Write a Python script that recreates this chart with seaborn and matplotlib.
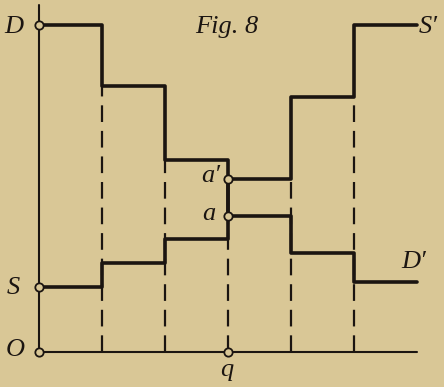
import matplotlib
matplotlib.use('Agg')

import matplotlib.pyplot as plt
import pandas as pd
import seaborn as sns

# step levels of the demand (D -> D') and supply (S -> S') schedules
quantity = [0, 1, 2, 3, 4, 5, 6]
demand = [32.7, 26.6, 19.2, 13.6, 9.9, 7.0, 7.0]
supply = [6.5, 8.9, 11.3, 17.3, 25.5, 32.7, 32.7]
q_eq = 3
a_price = 13.6
a2_price = 17.3

bg = '#d9c796'
ink = '#1b1511'

sns.set_style('white')
plt.rcParams['font.family'] = ['Liberation Serif', 'DejaVu Serif']

fig = plt.figure(figsize=(4.44, 3.87), dpi=100, facecolor=bg)
ax = fig.add_axes([0, 0, 1, 1], facecolor=bg)
ax.set_xlim(-39 / 63, 405 / 63)
ax.set_ylim(-3.5, 35.2)
ax.axis('off')

# axes of the diagram
ax.plot([0, 0], [0, 34.7], color=ink, lw=1.5, zorder=2)
ax.plot([0, 6.0], [0, 0], color=ink, lw=1.5, zorder=2)

# dashed verticals from each step down to the quantity axis
for i in range(1, 6):
    top = max(demand[i], supply[i - 1])
    ax.plot([quantity[i], quantity[i]], [0, top], color=ink, lw=1.6,
            dashes=(7.5, 4), zorder=1)

df = pd.DataFrame({'q': quantity, 'D': demand, 'S': supply})
sns.lineplot(data=df, x='q', y='D', ax=ax, color=ink, lw=2.6,
             drawstyle='steps-post', sort=False, zorder=3)
sns.lineplot(data=df, x='q', y='S', ax=ax, color=ink, lw=2.6,
             drawstyle='steps-post', sort=False, zorder=3)
ax.set_xlim(-39 / 63, 405 / 63)
ax.set_ylim(-3.5, 35.2)

# small open circles
pts_x = [0, 0, 0, q_eq, q_eq, q_eq]
pts_y = [demand[0], supply[0], 0, 0, a_price, a2_price]
ax.plot(pts_x, pts_y, 'o', ms=6, mfc=bg, mec=ink, mew=1.3, zorder=4)

fs = 19
kw = dict(style='italic', fontsize=fs, color=ink, ha='center', va='center')
ax.text(-0.40, 32.5, 'D', **kw)
ax.text(-0.40, 6.4, 'S', **kw)
ax.text(-0.38, 0.2, 'O', **kw)
ax.text(2.98, -1.8, 'q', **kw)
ax.text(2.73, 17.6, "a\u2032", **kw)
ax.text(2.70, 13.8, 'a', **kw)
ax.text(6.17, 32.5, "S\u2032", **kw)
ax.text(5.94, 9.0, "D\u2032", **kw)
ax.text(2.98, 32.5, 'Fig. 8', **kw)

fig.savefig('out.png', dpi=100, facecolor=bg)
